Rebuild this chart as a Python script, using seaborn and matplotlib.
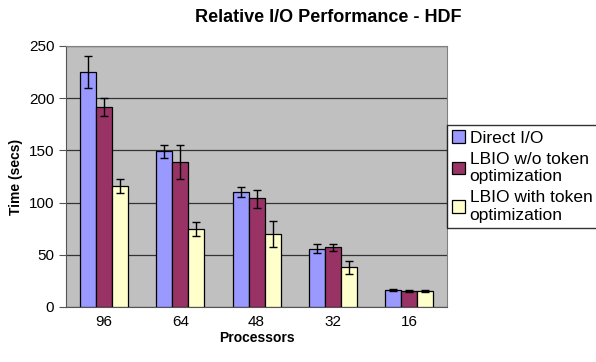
import numpy as np
import pandas as pd
import matplotlib
matplotlib.use("Agg")
import matplotlib.pyplot as plt
import seaborn as sns

# === данные ===
processors = ["96", "64", "48", "32", "16"]
series = ["Direct I/O", "LBIO w/o token\noptimization", "LBIO with token\noptimization"]
direct_io = [225, 149, 110, 56, 16]
lbio_wo = [192, 139, 104, 57, 15]
lbio_with = [116, 75, 70, 38, 15]
# верх и низ усов ошибки
direct_hi = [240, 155, 115, 60, 17]
direct_lo = [210, 143, 105, 52, 15]
wo_hi = [200, 155, 112, 60, 16]
wo_lo = [183, 123, 95, 54, 14]
with_hi = [123, 81, 82, 44, 16]
with_lo = [109, 68, 57, 32, 14]

colors = ["#9999FF", "#993366", "#FFFFCC"]

rows = []
for name, vals, hi, lo in zip(series,
                              [direct_io, lbio_wo, lbio_with],
                              [direct_hi, wo_hi, with_hi],
                              [direct_lo, wo_lo, with_lo]):
    for p, v, h, l in zip(processors, vals, hi, lo):
        rows.append({"Processors": p, "Series": name, "Time": v, "hi": h, "lo": l})
df = pd.DataFrame(rows)

sns.set_style("white")
plt.rcParams["font.family"] = ["Liberation Sans", "DejaVu Sans"]
plt.rcParams["text.color"] = "black"
plt.rcParams["axes.labelcolor"] = "black"
plt.rcParams["xtick.color"] = "black"
plt.rcParams["ytick.color"] = "black"

fig = plt.figure(figsize=(5.96, 3.62), dpi=100)
ax = fig.add_axes([0.111, 0.152, 0.639, 0.721])
ax.set_facecolor("#C0C0C0")

sns.barplot(data=df, x="Processors", y="Time", hue="Series", order=processors,
            hue_order=series, palette=colors, saturation=1, width=0.63, errorbar=None,
            edgecolor="black", linewidth=0.9, ax=ax, zorder=3)

# усы ошибок по позициям столбиков
bars = [p for p in ax.patches if p.get_height() > 0][:len(df)]
for bar, (_, r) in zip(bars, df.iterrows()):
    xc = bar.get_x() + bar.get_width() / 2
    ax.errorbar(xc, r["Time"], yerr=[[r["Time"] - r["lo"]], [r["hi"] - r["Time"]]],
                fmt="none", ecolor="black", elinewidth=1.0, capsize=3, capthick=1.0, zorder=4)

ax.set_ylim(0, 250)
ax.set_xlim(-0.5, len(processors) - 0.5)
ax.set_yticks(range(0, 251, 50))
ax.yaxis.grid(True, color="#333333", linewidth=0.9, zorder=0)
ax.set_axisbelow(True)

ax.tick_params(axis="x", which="major", length=0, labelsize=11, pad=6)
ax.set_xticks(np.arange(-0.5, len(processors) + 0.5, 1), minor=True)
ax.tick_params(axis="x", which="minor", length=5, direction="out", color="#555555")
ax.tick_params(axis="y", length=5, direction="out", labelsize=11, color="#555555", left=True)

for side in ["top", "right"]:
    ax.spines[side].set_color("#808080")
for side in ["left", "bottom"]:
    ax.spines[side].set_color("#555555")

ax.set_xlabel("Processors", fontsize=10, fontweight="bold", labelpad=1)
ax.set_ylabel("Time (secs)", fontsize=10, fontweight="bold")
fig.suptitle("Relative I/O Performance - HDF", fontsize=13, fontweight="bold", x=0.55, y=0.975)

leg = ax.legend(loc="center left", bbox_to_anchor=(1.0, 0.5), frameon=True, fontsize=12.5,
                handlelength=0.75, handleheight=0.75, handletextpad=0.25, borderpad=0.3,
                labelspacing=0.35, borderaxespad=0.0, fancybox=False)
leg.get_frame().set_edgecolor("black")
leg.get_frame().set_linewidth(1.0)

fig.savefig("out.png", dpi=100)
